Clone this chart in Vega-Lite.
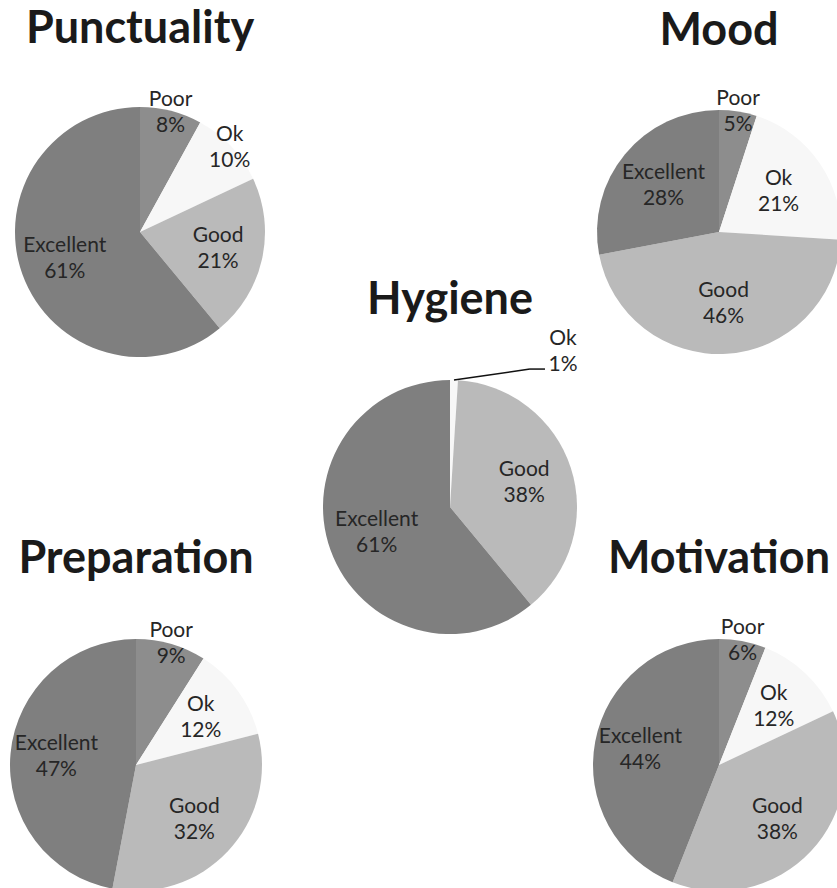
{
  "$schema": "https://vega.github.io/schema/vega-lite/v6.json",
  "background": "white",
  "padding": {"left": 10, "top": 6, "right": 0, "bottom": 0},
  "data": {
    "values": [
      {"chart": "Punctuality", "rating": "Poor", "value": 8},
      {"chart": "Punctuality", "rating": "Ok", "value": 10},
      {"chart": "Punctuality", "rating": "Good", "value": 21},
      {"chart": "Punctuality", "rating": "Excellent", "value": 61},
      {"chart": "Mood", "rating": "Poor", "value": 5},
      {"chart": "Mood", "rating": "Ok", "value": 21},
      {"chart": "Mood", "rating": "Good", "value": 46},
      {"chart": "Mood", "rating": "Excellent", "value": 28},
      {"chart": "Hygiene", "rating": "Ok", "value": 1},
      {"chart": "Hygiene", "rating": "Good", "value": 38},
      {"chart": "Hygiene", "rating": "Excellent", "value": 61},
      {"chart": "Preparation", "rating": "Poor", "value": 9},
      {"chart": "Preparation", "rating": "Ok", "value": 12},
      {"chart": "Preparation", "rating": "Good", "value": 32},
      {"chart": "Preparation", "rating": "Excellent", "value": 47},
      {"chart": "Motivation", "rating": "Poor", "value": 6},
      {"chart": "Motivation", "rating": "Ok", "value": 12},
      {"chart": "Motivation", "rating": "Good", "value": 38},
      {"chart": "Motivation", "rating": "Excellent", "value": 44}
    ]
  },
  "transform": [
    {"calculate": "indexof(['Poor','Ok','Good','Excellent'], datum.rating)", "as": "ord"},
    {"calculate": "datum.rating + '\\n' + datum.value + '%'", "as": "label"}
  ],
  "columns": 3,
  "align": "each",
  "bounds": "flush",
  "spacing": {"row": 0, "column": 0},
  "resolve": {"scale": {"theta": "independent", "radius": "independent"}},
  "concat": [
    {
      "width": 260, "height": 250,
      "title": {"text": "Punctuality", "offset": 37},
      "transform": [{"filter": "datum.chart === 'Punctuality'"}],
      "layer": [
        {
          "mark": {"type": "arc"},
          "encoding": {
            "theta": {"field": "value", "type": "quantitative", "stack": true},
            "order": {"field": "ord", "type": "quantitative"},
            "color": {"field": "rating", "type": "nominal", "legend": null,
              "scale": {"domain": ["Poor", "Ok", "Good", "Excellent"], "range": ["#8d8d8d", "#f7f7f7", "#bababa", "#7f7f7f"]}}
          }
        },
        {
          "mark": {"type": "text", "lineBreak": "\n", "dy": -13},
          "encoding": {
            "theta": {"field": "value", "type": "quantitative", "stack": true},
            "order": {"field": "ord", "type": "quantitative"},
            "radius": {"field": "value", "type": "quantitative",
              "scale": {"type": "linear", "domain": [10, 12], "range": [123, 80], "clamp": true, "zero": false}},
            "text": {"condition": {"test": "datum.value < 2", "value": ""}, "field": "label"}
          }
        }
      ]
    },
    {"width": 286, "height": 268, "data": {"values": []}, "mark": {"type": "point", "opacity": 0}},
    {
      "width": 252, "height": 250,
      "title": {"text": "Mood", "offset": 34},
      "transform": [{"filter": "datum.chart === 'Mood'"}],
      "layer": [
        {
          "mark": {"type": "arc", "outerRadius": 122},
          "encoding": {
            "theta": {"field": "value", "type": "quantitative", "stack": true},
            "order": {"field": "ord", "type": "quantitative"},
            "color": {"field": "rating", "type": "nominal", "legend": null}
          }
        },
        {
          "mark": {"type": "text", "lineBreak": "\n", "dy": -13},
          "encoding": {
            "theta": {"field": "value", "type": "quantitative", "stack": true},
            "order": {"field": "ord", "type": "quantitative"},
            "radius": {"field": "value", "type": "quantitative",
              "scale": {"type": "linear", "domain": [10, 12], "range": [122, 72], "clamp": true, "zero": false}},
            "text": {"condition": {"test": "datum.value < 2", "value": ""}, "field": "label"}
          }
        }
      ]
    },
    {"width": 297, "height": 264, "data": {"values": []}, "mark": {"type": "point", "opacity": 0}},
    {
      "width": 286, "height": 264,
      "title": {"text": "Hygiene", "offset": 5},
      "transform": [{"filter": "datum.chart === 'Hygiene'"}],
      "layer": [
        {
          "mark": {"type": "arc", "outerRadius": 127},
          "encoding": {
            "theta": {"field": "value", "type": "quantitative", "stack": true},
            "order": {"field": "ord", "type": "quantitative"},
            "color": {"field": "rating", "type": "nominal", "legend": null}
          }
        },
        {
          "mark": {"type": "text", "lineBreak": "\n", "dy": -13},
          "encoding": {
            "theta": {"field": "value", "type": "quantitative", "stack": true},
            "order": {"field": "ord", "type": "quantitative"},
            "radius": {"field": "value", "type": "quantitative",
              "scale": {"type": "linear", "domain": [10, 12], "range": [127, 78], "clamp": true, "zero": false}},
            "text": {"condition": {"test": "datum.value < 2", "value": ""}, "field": "label"}
          }
        },
        {
          "transform": [
            {"joinaggregate": [{"op": "sum", "field": "value", "as": "total"}]},
            {"window": [{"op": "sum", "field": "value", "as": "cumEnd"}], "sort": [{"field": "ord"}], "frame": [null, 0]},
            {"filter": "datum.value < 2"},
            {"calculate": "2 * PI * (datum.cumEnd - datum.value / 2) / datum.total", "as": "angle"},
            {"calculate": "127 * sin(datum.angle)", "as": "x0"},
            {"calculate": "127 * cos(datum.angle)", "as": "y0"},
            {"calculate": "datum.x0 + 76", "as": "xe"},
            {"calculate": "datum.y0 + 11", "as": "ye"},
            {"calculate": "datum.xe + 15", "as": "xf"},
            {"calculate": "datum.xf + 18", "as": "xt"}
          ],
          "layer": [
            {
              "mark": {"type": "rule", "color": "#111111", "strokeWidth": 1.5},
              "encoding": {
                "x": {"field": "x0", "type": "quantitative", "axis": null, "scale": {"domain": [-143, 143], "nice": false, "zero": false}},
                "y": {"field": "y0", "type": "quantitative", "axis": null, "scale": {"domain": [-132, 132], "nice": false, "zero": false}},
                "x2": {"field": "xe"},
                "y2": {"field": "ye"}
              }
            },
            {
              "mark": {"type": "rule", "color": "#111111", "strokeWidth": 1.5},
              "encoding": {
                "x": {"field": "xe", "type": "quantitative"},
                "y": {"field": "ye", "type": "quantitative"},
                "x2": {"field": "xf"}
              }
            },
            {
              "mark": {"type": "text", "lineBreak": "\n", "baseline": "alphabetic", "dy": -24},
              "encoding": {
                "x": {"field": "xt", "type": "quantitative"},
                "y": {"field": "ye", "type": "quantitative"},
                "text": {"field": "label"}
              }
            }
          ]
        }
      ]
    },
    {"width": 252, "height": 264, "data": {"values": []}, "mark": {"type": "point", "opacity": 0}},
    {
      "width": 252, "height": 252,
      "title": {"text": "Preparation", "offset": 38},
      "transform": [{"filter": "datum.chart === 'Preparation'"}],
      "layer": [
        {
          "mark": {"type": "arc"},
          "encoding": {
            "theta": {"field": "value", "type": "quantitative", "stack": true},
            "order": {"field": "ord", "type": "quantitative"},
            "color": {"field": "rating", "type": "nominal", "legend": null}
          }
        },
        {
          "mark": {"type": "text", "lineBreak": "\n", "dy": -13},
          "encoding": {
            "theta": {"field": "value", "type": "quantitative", "stack": true},
            "order": {"field": "ord", "type": "quantitative"},
            "radius": {"field": "value", "type": "quantitative",
              "scale": {"type": "linear", "domain": [10, 12], "range": [126, 80], "clamp": true, "zero": false}},
            "text": {"condition": {"test": "datum.value < 2", "value": ""}, "field": "label"}
          }
        }
      ]
    },
    {"width": 286, "height": 252, "data": {"values": []}, "mark": {"type": "point", "opacity": 0}},
    {
      "width": 252, "height": 252,
      "title": {"text": "Motivation", "offset": 35},
      "transform": [{"filter": "datum.chart === 'Motivation'"}],
      "layer": [
        {
          "mark": {"type": "arc"},
          "encoding": {
            "theta": {"field": "value", "type": "quantitative", "stack": true},
            "order": {"field": "ord", "type": "quantitative"},
            "color": {"field": "rating", "type": "nominal", "legend": null}
          }
        },
        {
          "mark": {"type": "text", "lineBreak": "\n", "dy": -13},
          "encoding": {
            "theta": {"field": "value", "type": "quantitative", "stack": true},
            "order": {"field": "ord", "type": "quantitative"},
            "radius": {"field": "value", "type": "quantitative",
              "scale": {"type": "linear", "domain": [10, 12], "range": [126, 80], "clamp": true, "zero": false}},
            "text": {"condition": {"test": "datum.value < 2", "value": ""}, "field": "label"}
          }
        }
      ]
    }
  ],
  "config": {
    "view": {"stroke": null},
    "title": {"font": "Lato", "fontSize": 45, "fontWeight": "bold", "color": "#1a1a1a", "frame": "group", "anchor": "middle", "baseline": "alphabetic"},
    "text": {"font": "Lato", "fontSize": 21, "color": "#262626", "lineHeight": 26}
  }
}
